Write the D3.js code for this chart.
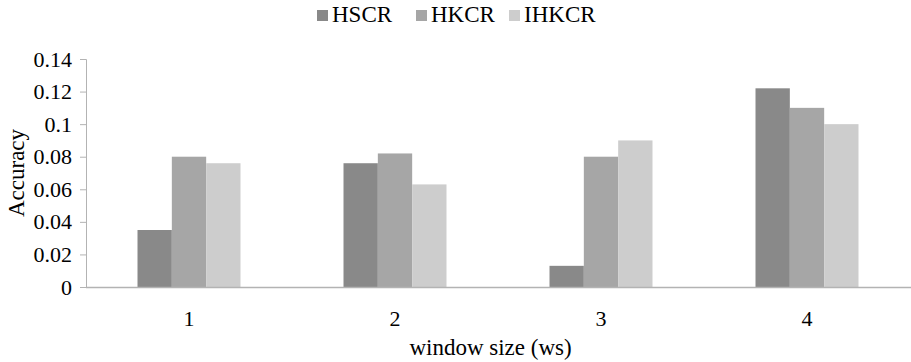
<!DOCTYPE html>
<html>
<head>
<meta charset="utf-8">
<script src="https://cdn.jsdelivr.net/npm/d3@7"></script>
<style>
  body { margin: 0; background: #fff; }
  svg text { font-family: "Liberation Serif", "Times New Roman", serif !important; }
</style>
</head>
<body>
<svg id="chart"></svg>
<script>
const width = 911;
const height = 362;

// data
const windowSizes = ["1", "2", "3", "4"];
const seriesNames = ["HSCR", "HKCR", "IHKCR"];
const hscr = [0.035, 0.076, 0.013, 0.122];
const hkcr = [0.080, 0.082, 0.080, 0.110];
const ihkcr = [0.076, 0.063, 0.090, 0.100];
const yTicks = [0, 0.02, 0.04, 0.06, 0.08, 0.1, 0.12, 0.14];

const colors = ["#898989", "#a6a6a6", "#cdcdcd"];
const seriesValues = [hscr, hkcr, ihkcr];

const margin = { top: 59, right: 1, bottom: 75, left: 86 };

const svg = d3.select("#chart").attr("width", width).attr("height", height);

const x0 = d3
  .scaleBand()
  .domain(windowSizes)
  .range([margin.left, width - margin.right])
  .paddingInner(0.5)
  .paddingOuter(0.25);

const x1 = d3
  .scaleBand()
  .domain(seriesNames)
  .range([0, x0.bandwidth()]);

const y = d3
  .scaleLinear()
  .domain([0, 0.14])
  .range([height - margin.bottom, margin.top]);

const color = d3.scaleOrdinal().domain(seriesNames).range(colors);

// bars
const rows = windowSizes.map((w, i) => ({
  ws: w,
  vals: seriesNames.map((s, j) => ({ key: s, value: seriesValues[j][i] })),
}));

svg
  .append("g")
  .selectAll("g")
  .data(rows)
  .join("g")
  .attr("transform", (d) => `translate(${x0(d.ws)},0)`)
  .selectAll("rect")
  .data((d) => d.vals)
  .join("rect")
  .attr("x", (d) => x1(d.key))
  .attr("y", (d) => y(d.value))
  .attr("width", x1.bandwidth())
  .attr("height", (d) => y(0) - y(d.value))
  .attr("fill", (d) => color(d.key));

// y axis
const yAxis = svg
  .append("g")
  .attr("transform", `translate(${margin.left},0)`)
  .call(
    d3
      .axisLeft(y)
      .tickValues(yTicks)
      .tickFormat((d) => String(+d.toFixed(2)))
      .tickSize(6)
      .tickPadding(8)
  );
yAxis.select(".domain").attr("stroke", "#b3b3b3");
yAxis.selectAll(".tick line").attr("stroke", "#b3b3b3");
yAxis.selectAll(".tick text").attr("font-size", 22).attr("fill", "#000");

// x axis
const xAxis = svg
  .append("g")
  .attr("transform", `translate(0,${y(0)})`)
  .call(d3.axisBottom(x0).tickSize(0).tickPadding(23).tickSizeOuter(0));
xAxis
  .select(".domain")
  .attr("stroke", "#b3b3b3")
  .attr("stroke-width", 1.5)
  .attr("d", `M${margin.left},0.5H${width}`);
xAxis.selectAll(".tick text").attr("font-size", 22).attr("fill", "#000");

// axis titles
svg
  .append("text")
  .attr("x", (margin.left + width) / 2 - 8)
  .attr("y", 355)
  .attr("text-anchor", "middle")
  .attr("font-size", 23)
  .text("window size (ws)");

svg
  .append("text")
  .attr("transform", `translate(24,${(margin.top + y(0)) / 2}) rotate(-90)`)
  .attr("text-anchor", "middle")
  .attr("font-size", 23)
  .text("Accuracy");

// legend
const legendX = [317, 416, 509];
const legend = svg
  .append("g")
  .selectAll("g")
  .data(seriesNames)
  .join("g")
  .attr("transform", (d, i) => `translate(${legendX[i]},10)`);

legend
  .append("rect")
  .attr("width", 11)
  .attr("height", 11)
  .attr("fill", (d) => color(d));

legend
  .append("text")
  .attr("x", 15)
  .attr("y", 12)
  .attr("font-size", 23)
  .text((d) => d);
</script>
</body>
</html>
